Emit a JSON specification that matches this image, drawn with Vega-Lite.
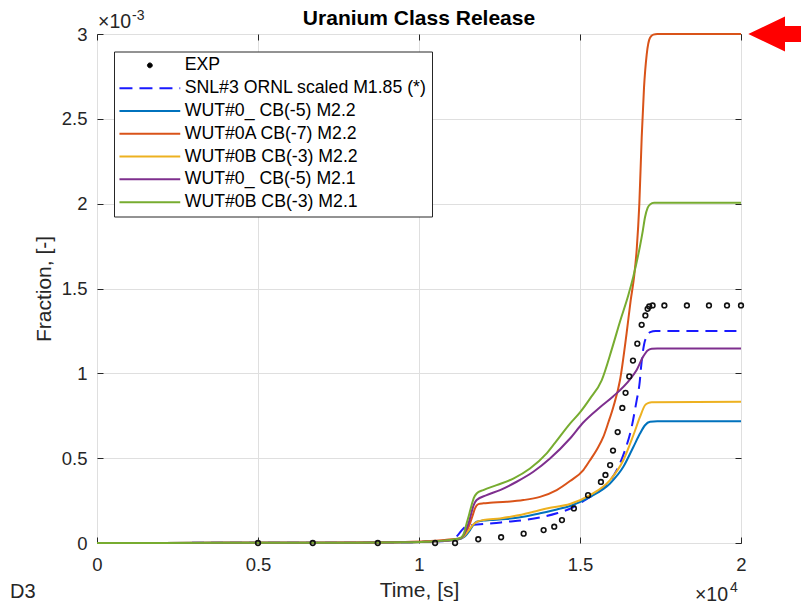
{
  "$schema": "https://vega.github.io/schema/vega-lite/v6.json",
  "width": 644,
  "height": 509,
  "autosize": {"type": "none"},
  "padding": {"left": 97, "top": 34, "right": 60, "bottom": 61},
  "background": "#ffffff",
  "config": {
    "font": "Liberation Sans",
    "view": {"stroke": "#262626", "strokeWidth": 1}
  },
  "title": {
    "text": "Uranium Class Release",
    "font": "Liberation Sans",
    "fontSize": 21,
    "fontWeight": "bold",
    "color": "#000000",
    "anchor": "middle",
    "baseline": "alphabetic",
    "offset": 9,
    "dy": 46
  },
  "datasets": {
    "exp": [
      {"s": "EXP", "t": 5000, "f": 0}, {"s": "EXP", "t": 6700, "f": 0}, {"s": "EXP", "t": 8720, "f": 0},
      {"s": "EXP", "t": 10500, "f": 0}, {"s": "EXP", "t": 11120, "f": 0}, {"s": "EXP", "t": 11840, "f": 0.022},
      {"s": "EXP", "t": 12550, "f": 0.034}, {"s": "EXP", "t": 13250, "f": 0.055}, {"s": "EXP", "t": 13870, "f": 0.076},
      {"s": "EXP", "t": 14200, "f": 0.096}, {"s": "EXP", "t": 14440, "f": 0.135}, {"s": "EXP", "t": 14810, "f": 0.204},
      {"s": "EXP", "t": 15250, "f": 0.282}, {"s": "EXP", "t": 15650, "f": 0.36}, {"s": "EXP", "t": 15790, "f": 0.401},
      {"s": "EXP", "t": 15935, "f": 0.459}, {"s": "EXP", "t": 16025, "f": 0.545}, {"s": "EXP", "t": 16170, "f": 0.654},
      {"s": "EXP", "t": 16315, "f": 0.796}, {"s": "EXP", "t": 16415, "f": 0.885}, {"s": "EXP", "t": 16530, "f": 0.982},
      {"s": "EXP", "t": 16645, "f": 1.075}, {"s": "EXP", "t": 16780, "f": 1.175}, {"s": "EXP", "t": 16915, "f": 1.286},
      {"s": "EXP", "t": 17030, "f": 1.341}, {"s": "EXP", "t": 17100, "f": 1.38}, {"s": "EXP", "t": 17150, "f": 1.394},
      {"s": "EXP", "t": 17255, "f": 1.4}, {"s": "EXP", "t": 17620, "f": 1.4}, {"s": "EXP", "t": 18320, "f": 1.4},
      {"s": "EXP", "t": 19005, "f": 1.4}, {"s": "EXP", "t": 19565, "f": 1.4}, {"s": "EXP", "t": 20000, "f": 1.4}
    ],
    "snl": [
      {"s": "SNL#3 ORNL scaled M1.85 (*)", "t": 0, "f": 0}, {"s": "SNL#3 ORNL scaled M1.85 (*)", "t": 4000, "f": 0.001},
      {"s": "SNL#3 ORNL scaled M1.85 (*)", "t": 8000, "f": 0.002}, {"s": "SNL#3 ORNL scaled M1.85 (*)", "t": 9500, "f": 0.004},
      {"s": "SNL#3 ORNL scaled M1.85 (*)", "t": 10200, "f": 0.007}, {"s": "SNL#3 ORNL scaled M1.85 (*)", "t": 10800, "f": 0.012},
      {"s": "SNL#3 ORNL scaled M1.85 (*)", "t": 11050, "f": 0.02}, {"s": "SNL#3 ORNL scaled M1.85 (*)", "t": 11200, "f": 0.045},
      {"s": "SNL#3 ORNL scaled M1.85 (*)", "t": 11380, "f": 0.086}, {"s": "SNL#3 ORNL scaled M1.85 (*)", "t": 11580, "f": 0.104},
      {"s": "SNL#3 ORNL scaled M1.85 (*)", "t": 11900, "f": 0.11}, {"s": "SNL#3 ORNL scaled M1.85 (*)", "t": 12300, "f": 0.116},
      {"s": "SNL#3 ORNL scaled M1.85 (*)", "t": 12720, "f": 0.125}, {"s": "SNL#3 ORNL scaled M1.85 (*)", "t": 13240, "f": 0.135},
      {"s": "SNL#3 ORNL scaled M1.85 (*)", "t": 13760, "f": 0.151}, {"s": "SNL#3 ORNL scaled M1.85 (*)", "t": 14280, "f": 0.175},
      {"s": "SNL#3 ORNL scaled M1.85 (*)", "t": 14800, "f": 0.212}, {"s": "SNL#3 ORNL scaled M1.85 (*)", "t": 15250, "f": 0.265},
      {"s": "SNL#3 ORNL scaled M1.85 (*)", "t": 15724, "f": 0.325}, {"s": "SNL#3 ORNL scaled M1.85 (*)", "t": 16139, "f": 0.429},
      {"s": "SNL#3 ORNL scaled M1.85 (*)", "t": 16398, "f": 0.547}, {"s": "SNL#3 ORNL scaled M1.85 (*)", "t": 16605, "f": 0.684},
      {"s": "SNL#3 ORNL scaled M1.85 (*)", "t": 16760, "f": 0.841}, {"s": "SNL#3 ORNL scaled M1.85 (*)", "t": 16843, "f": 0.93},
      {"s": "SNL#3 ORNL scaled M1.85 (*)", "t": 16920, "f": 1.08}, {"s": "SNL#3 ORNL scaled M1.85 (*)", "t": 16990, "f": 1.17},
      {"s": "SNL#3 ORNL scaled M1.85 (*)", "t": 17080, "f": 1.22}, {"s": "SNL#3 ORNL scaled M1.85 (*)", "t": 17180, "f": 1.243},
      {"s": "SNL#3 ORNL scaled M1.85 (*)", "t": 17350, "f": 1.25}, {"s": "SNL#3 ORNL scaled M1.85 (*)", "t": 20000, "f": 1.25}
    ],
    "wut": [
      {"s": "WUT#0_ CB(-5) M2.2", "t": 0, "f": 0}, {"s": "WUT#0_ CB(-5) M2.2", "t": 4000, "f": 0.001},
      {"s": "WUT#0_ CB(-5) M2.2", "t": 8000, "f": 0.002}, {"s": "WUT#0_ CB(-5) M2.2", "t": 9500, "f": 0.004},
      {"s": "WUT#0_ CB(-5) M2.2", "t": 10200, "f": 0.007}, {"s": "WUT#0_ CB(-5) M2.2", "t": 10800, "f": 0.013},
      {"s": "WUT#0_ CB(-5) M2.2", "t": 11200, "f": 0.02}, {"s": "WUT#0_ CB(-5) M2.2", "t": 11400, "f": 0.035},
      {"s": "WUT#0_ CB(-5) M2.2", "t": 11584, "f": 0.076}, {"s": "WUT#0_ CB(-5) M2.2", "t": 11700, "f": 0.11},
      {"s": "WUT#0_ CB(-5) M2.2", "t": 11790, "f": 0.125}, {"s": "WUT#0_ CB(-5) M2.2", "t": 12000, "f": 0.132},
      {"s": "WUT#0_ CB(-5) M2.2", "t": 12205, "f": 0.135}, {"s": "WUT#0_ CB(-5) M2.2", "t": 12700, "f": 0.141},
      {"s": "WUT#0_ CB(-5) M2.2", "t": 13240, "f": 0.155}, {"s": "WUT#0_ CB(-5) M2.2", "t": 13760, "f": 0.175},
      {"s": "WUT#0_ CB(-5) M2.2", "t": 14280, "f": 0.198}, {"s": "WUT#0_ CB(-5) M2.2", "t": 14690, "f": 0.218},
      {"s": "WUT#0_ CB(-5) M2.2", "t": 15311, "f": 0.272}, {"s": "WUT#0_ CB(-5) M2.2", "t": 15932, "f": 0.351},
      {"s": "WUT#0_ CB(-5) M2.2", "t": 16346, "f": 0.449}, {"s": "WUT#0_ CB(-5) M2.2", "t": 16657, "f": 0.566},
      {"s": "WUT#0_ CB(-5) M2.2", "t": 16863, "f": 0.645}, {"s": "WUT#0_ CB(-5) M2.2", "t": 17019, "f": 0.694},
      {"s": "WUT#0_ CB(-5) M2.2", "t": 17174, "f": 0.714}, {"s": "WUT#0_ CB(-5) M2.2", "t": 17400, "f": 0.717},
      {"s": "WUT#0_ CB(-5) M2.2", "t": 20000, "f": 0.717},

      {"s": "WUT#0A CB(-7) M2.2", "t": 0, "f": 0}, {"s": "WUT#0A CB(-7) M2.2", "t": 4000, "f": 0.001},
      {"s": "WUT#0A CB(-7) M2.2", "t": 8000, "f": 0.003}, {"s": "WUT#0A CB(-7) M2.2", "t": 9500, "f": 0.006},
      {"s": "WUT#0A CB(-7) M2.2", "t": 10200, "f": 0.01}, {"s": "WUT#0A CB(-7) M2.2", "t": 10800, "f": 0.018},
      {"s": "WUT#0A CB(-7) M2.2", "t": 11273, "f": 0.028}, {"s": "WUT#0A CB(-7) M2.2", "t": 11450, "f": 0.06},
      {"s": "WUT#0A CB(-7) M2.2", "t": 11584, "f": 0.116}, {"s": "WUT#0A CB(-7) M2.2", "t": 11680, "f": 0.17},
      {"s": "WUT#0A CB(-7) M2.2", "t": 11739, "f": 0.204}, {"s": "WUT#0A CB(-7) M2.2", "t": 11842, "f": 0.229},
      {"s": "WUT#0A CB(-7) M2.2", "t": 12000, "f": 0.234}, {"s": "WUT#0A CB(-7) M2.2", "t": 12205, "f": 0.237},
      {"s": "WUT#0A CB(-7) M2.2", "t": 12723, "f": 0.243}, {"s": "WUT#0A CB(-7) M2.2", "t": 13240, "f": 0.253},
      {"s": "WUT#0A CB(-7) M2.2", "t": 13758, "f": 0.272}, {"s": "WUT#0A CB(-7) M2.2", "t": 14276, "f": 0.312},
      {"s": "WUT#0A CB(-7) M2.2", "t": 14690, "f": 0.365}, {"s": "WUT#0A CB(-7) M2.2", "t": 15104, "f": 0.43},
      {"s": "WUT#0A CB(-7) M2.2", "t": 15311, "f": 0.488}, {"s": "WUT#0A CB(-7) M2.2", "t": 15520, "f": 0.55},
      {"s": "WUT#0A CB(-7) M2.2", "t": 15724, "f": 0.625}, {"s": "WUT#0A CB(-7) M2.2", "t": 15880, "f": 0.71},
      {"s": "WUT#0A CB(-7) M2.2", "t": 16035, "f": 0.802}, {"s": "WUT#0A CB(-7) M2.2", "t": 16242, "f": 0.959},
      {"s": "WUT#0A CB(-7) M2.2", "t": 16446, "f": 1.234}, {"s": "WUT#0A CB(-7) M2.2", "t": 16574, "f": 1.43},
      {"s": "WUT#0A CB(-7) M2.2", "t": 16680, "f": 1.57}, {"s": "WUT#0A CB(-7) M2.2", "t": 16761, "f": 1.73},
      {"s": "WUT#0A CB(-7) M2.2", "t": 16843, "f": 2.0}, {"s": "WUT#0A CB(-7) M2.2", "t": 16916, "f": 2.39},
      {"s": "WUT#0A CB(-7) M2.2", "t": 16988, "f": 2.684}, {"s": "WUT#0A CB(-7) M2.2", "t": 17072, "f": 2.88},
      {"s": "WUT#0A CB(-7) M2.2", "t": 17174, "f": 2.978}, {"s": "WUT#0A CB(-7) M2.2", "t": 17277, "f": 2.996},
      {"s": "WUT#0A CB(-7) M2.2", "t": 17400, "f": 3.0}, {"s": "WUT#0A CB(-7) M2.2", "t": 20000, "f": 3.0},

      {"s": "WUT#0B CB(-3) M2.2", "t": 0, "f": 0}, {"s": "WUT#0B CB(-3) M2.2", "t": 4000, "f": 0.001},
      {"s": "WUT#0B CB(-3) M2.2", "t": 8000, "f": 0.002}, {"s": "WUT#0B CB(-3) M2.2", "t": 9500, "f": 0.004},
      {"s": "WUT#0B CB(-3) M2.2", "t": 10200, "f": 0.007}, {"s": "WUT#0B CB(-3) M2.2", "t": 10800, "f": 0.013},
      {"s": "WUT#0B CB(-3) M2.2", "t": 11200, "f": 0.02}, {"s": "WUT#0B CB(-3) M2.2", "t": 11400, "f": 0.04},
      {"s": "WUT#0B CB(-3) M2.2", "t": 11584, "f": 0.085}, {"s": "WUT#0B CB(-3) M2.2", "t": 11700, "f": 0.112},
      {"s": "WUT#0B CB(-3) M2.2", "t": 11800, "f": 0.125}, {"s": "WUT#0B CB(-3) M2.2", "t": 12000, "f": 0.135},
      {"s": "WUT#0B CB(-3) M2.2", "t": 12516, "f": 0.145}, {"s": "WUT#0B CB(-3) M2.2", "t": 13000, "f": 0.16},
      {"s": "WUT#0B CB(-3) M2.2", "t": 13551, "f": 0.184}, {"s": "WUT#0B CB(-3) M2.2", "t": 14000, "f": 0.205},
      {"s": "WUT#0B CB(-3) M2.2", "t": 14690, "f": 0.23}, {"s": "WUT#0B CB(-3) M2.2", "t": 15311, "f": 0.282},
      {"s": "WUT#0B CB(-3) M2.2", "t": 15932, "f": 0.371}, {"s": "WUT#0B CB(-3) M2.2", "t": 16346, "f": 0.488},
      {"s": "WUT#0B CB(-3) M2.2", "t": 16657, "f": 0.635}, {"s": "WUT#0B CB(-3) M2.2", "t": 16863, "f": 0.743},
      {"s": "WUT#0B CB(-3) M2.2", "t": 17019, "f": 0.812}, {"s": "WUT#0B CB(-3) M2.2", "t": 17130, "f": 0.826},
      {"s": "WUT#0B CB(-3) M2.2", "t": 17226, "f": 0.83}, {"s": "WUT#0B CB(-3) M2.2", "t": 20000, "f": 0.832},

      {"s": "WUT#0_ CB(-5) M2.1", "t": 0, "f": 0}, {"s": "WUT#0_ CB(-5) M2.1", "t": 4000, "f": 0.001},
      {"s": "WUT#0_ CB(-5) M2.1", "t": 8000, "f": 0.002}, {"s": "WUT#0_ CB(-5) M2.1", "t": 9500, "f": 0.004},
      {"s": "WUT#0_ CB(-5) M2.1", "t": 10200, "f": 0.007}, {"s": "WUT#0_ CB(-5) M2.1", "t": 10800, "f": 0.013},
      {"s": "WUT#0_ CB(-5) M2.1", "t": 11273, "f": 0.025}, {"s": "WUT#0_ CB(-5) M2.1", "t": 11400, "f": 0.05},
      {"s": "WUT#0_ CB(-5) M2.1", "t": 11480, "f": 0.086}, {"s": "WUT#0_ CB(-5) M2.1", "t": 11560, "f": 0.13},
      {"s": "WUT#0_ CB(-5) M2.1", "t": 11635, "f": 0.184}, {"s": "WUT#0_ CB(-5) M2.1", "t": 11700, "f": 0.225},
      {"s": "WUT#0_ CB(-5) M2.1", "t": 11790, "f": 0.253}, {"s": "WUT#0_ CB(-5) M2.1", "t": 12100, "f": 0.282},
      {"s": "WUT#0_ CB(-5) M2.1", "t": 12516, "f": 0.312}, {"s": "WUT#0_ CB(-5) M2.1", "t": 13033, "f": 0.361},
      {"s": "WUT#0_ CB(-5) M2.1", "t": 13551, "f": 0.42}, {"s": "WUT#0_ CB(-5) M2.1", "t": 14068, "f": 0.498},
      {"s": "WUT#0_ CB(-5) M2.1", "t": 14690, "f": 0.616}, {"s": "WUT#0_ CB(-5) M2.1", "t": 15100, "f": 0.71},
      {"s": "WUT#0_ CB(-5) M2.1", "t": 15621, "f": 0.8}, {"s": "WUT#0_ CB(-5) M2.1", "t": 16035, "f": 0.865},
      {"s": "WUT#0_ CB(-5) M2.1", "t": 16553, "f": 0.965}, {"s": "WUT#0_ CB(-5) M2.1", "t": 16760, "f": 1.02},
      {"s": "WUT#0_ CB(-5) M2.1", "t": 16966, "f": 1.1}, {"s": "WUT#0_ CB(-5) M2.1", "t": 17100, "f": 1.135},
      {"s": "WUT#0_ CB(-5) M2.1", "t": 17226, "f": 1.145}, {"s": "WUT#0_ CB(-5) M2.1", "t": 17400, "f": 1.147},
      {"s": "WUT#0_ CB(-5) M2.1", "t": 20000, "f": 1.147},

      {"s": "WUT#0B CB(-3) M2.1", "t": 0, "f": 0}, {"s": "WUT#0B CB(-3) M2.1", "t": 4000, "f": 0.001},
      {"s": "WUT#0B CB(-3) M2.1", "t": 8000, "f": 0.002}, {"s": "WUT#0B CB(-3) M2.1", "t": 9500, "f": 0.004},
      {"s": "WUT#0B CB(-3) M2.1", "t": 10200, "f": 0.007}, {"s": "WUT#0B CB(-3) M2.1", "t": 10800, "f": 0.014},
      {"s": "WUT#0B CB(-3) M2.1", "t": 11273, "f": 0.028}, {"s": "WUT#0B CB(-3) M2.1", "t": 11400, "f": 0.06},
      {"s": "WUT#0B CB(-3) M2.1", "t": 11480, "f": 0.116}, {"s": "WUT#0B CB(-3) M2.1", "t": 11560, "f": 0.17},
      {"s": "WUT#0B CB(-3) M2.1", "t": 11635, "f": 0.224}, {"s": "WUT#0B CB(-3) M2.1", "t": 11700, "f": 0.265},
      {"s": "WUT#0B CB(-3) M2.1", "t": 11790, "f": 0.292}, {"s": "WUT#0B CB(-3) M2.1", "t": 11997, "f": 0.312},
      {"s": "WUT#0B CB(-3) M2.1", "t": 12411, "f": 0.341}, {"s": "WUT#0B CB(-3) M2.1", "t": 12929, "f": 0.38},
      {"s": "WUT#0B CB(-3) M2.1", "t": 13447, "f": 0.439}, {"s": "WUT#0B CB(-3) M2.1", "t": 13965, "f": 0.528},
      {"s": "WUT#0B CB(-3) M2.1", "t": 14224, "f": 0.59}, {"s": "WUT#0B CB(-3) M2.1", "t": 14690, "f": 0.704},
      {"s": "WUT#0B CB(-3) M2.1", "t": 15000, "f": 0.77}, {"s": "WUT#0B CB(-3) M2.1", "t": 15311, "f": 0.851},
      {"s": "WUT#0B CB(-3) M2.1", "t": 15673, "f": 0.959}, {"s": "WUT#0B CB(-3) M2.1", "t": 16000, "f": 1.15},
      {"s": "WUT#0B CB(-3) M2.1", "t": 16250, "f": 1.31}, {"s": "WUT#0B CB(-3) M2.1", "t": 16500, "f": 1.46},
      {"s": "WUT#0B CB(-3) M2.1", "t": 16655, "f": 1.57}, {"s": "WUT#0B CB(-3) M2.1", "t": 16863, "f": 1.75},
      {"s": "WUT#0B CB(-3) M2.1", "t": 16950, "f": 1.84}, {"s": "WUT#0B CB(-3) M2.1", "t": 17019, "f": 1.92},
      {"s": "WUT#0B CB(-3) M2.1", "t": 17100, "f": 1.975}, {"s": "WUT#0B CB(-3) M2.1", "t": 17174, "f": 1.995},
      {"s": "WUT#0B CB(-3) M2.1", "t": 17300, "f": 2.005}, {"s": "WUT#0B CB(-3) M2.1", "t": 20000, "f": 2.005}
    ],
    "notes": [
      {"t": 0, "f": 3, "label": "×10", "role": "yexp"},
      {"t": 0, "f": 3, "label": "-3", "role": "yexpsup"},
      {"t": 20000, "f": 0, "label": "×10", "role": "xexp"},
      {"t": 20000, "f": 0, "label": "4", "role": "xexpsup"},
      {"t": 0, "f": 0, "label": "D3", "role": "tag"}
    ],
    "marker": [
      {"t": 20000, "f": 3}
    ]
  },
  "resolve": {"axis": {"x": "independent", "y": "independent"}},
  "layer": [
    {
      "layer": [
        {
          "data": {"name": "snl"},
          "mark": {"type": "line", "strokeWidth": 2, "strokeDash": [12, 7], "interpolate": "monotone"},
          "encoding": {
            "x": {
              "field": "t", "type": "quantitative",
              "scale": {"domain": [0, 20000], "nice": false, "zero": false},
              "axis": {
                "values": [0, 5000, 10000, 15000, 20000],
                "labelExpr": "format(datum.value / 10000, '~g')",
                "title": "Time, [s]",
                "grid": true, "gridColor": "#dfdfdf", "gridWidth": 1,
                "domain": false,
                "ticks": true, "tickSize": -6, "tickColor": "#262626", "tickWidth": 1,
                "labelFont": "Liberation Sans", "labelFontSize": 18.5, "labelColor": "#262626",
                "labelPadding": 18, "labelFlush": false, "labelOverlap": false,
                "titleFont": "Liberation Sans", "titleFontSize": 21, "titleFontWeight": "normal",
                "titleColor": "#262626", "titlePadding": 6
              }
            },
            "y": {
              "field": "f", "type": "quantitative",
              "scale": {"domain": [0, 3], "nice": false, "zero": false},
              "axis": {
                "values": [0, 0.5, 1, 1.5, 2, 2.5, 3],
                "labelExpr": "format(datum.value, '~g')",
                "title": "Fraction, [-]",
                "grid": true, "gridColor": "#dfdfdf", "gridWidth": 1,
                "domain": false,
                "ticks": true, "tickSize": -6, "tickColor": "#262626", "tickWidth": 1,
                "labelFont": "Liberation Sans", "labelFontSize": 18.5, "labelColor": "#262626",
                "labelPadding": 16, "labelFlush": false, "labelOverlap": false,
                "titleFont": "Liberation Sans", "titleFontSize": 21, "titleFontWeight": "normal",
                "titleColor": "#262626", "titlePadding": 7
              }
            },
            "color": {
              "field": "s", "type": "nominal",
              "scale": {
                "domain": ["EXP", "SNL#3 ORNL scaled M1.85 (*)", "WUT#0_ CB(-5) M2.2", "WUT#0A CB(-7) M2.2", "WUT#0B CB(-3) M2.2", "WUT#0_ CB(-5) M2.1", "WUT#0B CB(-3) M2.1"],
                "range": ["#000000", "#1a1aff", "#0072bd", "#d95319", "#edb120", "#7e2f8e", "#77ac30"]
              },
              "legend": {
                "orient": "none", "legendX": 17, "legendY": 17.5,
                "title": null,
                "padding": 5,
                "strokeColor": "#262626", "fillColor": "#ffffff",
                "labelFont": "Liberation Sans", "labelFontSize": 17.7, "labelColor": "#000000",
                "labelLimit": 400, "labelBaseline": "middle",
                "rowPadding": 3.8,
                "symbolType": "M-7.6,0H7.6",
                "symbolSize": 64, "symbolStrokeWidth": 2,
                "symbolOffset": 22, "labelOffset": 26,
                "encode": {
                  "symbols": {
                    "update": {
                      "shape": {"signal": "datum.value === 'EXP' ? 'M0.6,0A0.6,0.6 0 1 1 -0.6,0A0.6,0.6 0 1 1 0.6,0Z' : 'M-7.6,0H7.6'"},
                      "strokeDash": {"signal": "datum.value === 'SNL#3 ORNL scaled M1.85 (*)' ? [13, 7] : [1, 0]"},
                      "fill": {"signal": "datum.value === 'EXP' ? '#000000' : 'transparent'"},
                      "strokeWidth": {"signal": "datum.value === 'EXP' ? 1 : 2"}
                    }
                  }
                }
              }
            }
          }
        },
        {
          "data": {"name": "wut"},
          "mark": {"type": "line", "strokeWidth": 2, "interpolate": "monotone"},
          "encoding": {
            "x": {"field": "t", "type": "quantitative"},
            "y": {"field": "f", "type": "quantitative"},
            "color": {"field": "s", "type": "nominal"}
          }
        },
        {
          "data": {"name": "exp"},
          "mark": {"type": "point", "shape": "circle", "size": 22, "filled": false, "strokeWidth": 1.6, "color": "#111111", "opacity": 1},
          "encoding": {
            "x": {"field": "t", "type": "quantitative"},
            "y": {"field": "f", "type": "quantitative"}
          }
        }
      ]
    },
    {
      "data": {"name": "marker"},
      "mark": {
        "type": "point",
        "shape": "M0.73,0L4.4,-1.75L4.4,-0.8L6.5,-0.8L6.5,0.8L4.4,0.8L4.4,1.75Z",
        "size": 400, "filled": true, "color": "#ff0000", "strokeWidth": 0, "opacity": 1
      },
      "encoding": {
        "x": {
          "field": "t", "type": "quantitative",
          "scale": {"domain": [0, 20000], "nice": false, "zero": false},
          "axis": {"orient": "top", "values": [0, 5000, 10000, 15000, 20000], "labels": false, "title": null, "grid": false, "domain": false, "ticks": true, "tickSize": -6, "tickColor": "#262626"}
        },
        "y": {
          "field": "f", "type": "quantitative",
          "scale": {"domain": [0, 3], "nice": false, "zero": false},
          "axis": {"orient": "right", "values": [0, 0.5, 1, 1.5, 2, 2.5, 3], "labels": false, "title": null, "grid": false, "domain": false, "ticks": true, "tickSize": -6, "tickColor": "#262626"}
        }
      }
    },
    {
      "data": {"name": "notes"},
      "layer": [
        {
          "transform": [{"filter": "datum.role === 'yexp'"}],
          "mark": {"type": "text", "font": "Liberation Sans", "fontSize": 19.5, "color": "#262626", "align": "left", "baseline": "alphabetic", "dx": 1, "dy": -6},
          "encoding": {
            "x": {"field": "t", "type": "quantitative", "axis": null},
            "y": {"field": "f", "type": "quantitative", "axis": null},
            "text": {"field": "label"}
          }
        },
        {
          "transform": [{"filter": "datum.role === 'yexpsup'"}],
          "mark": {"type": "text", "font": "Liberation Sans", "fontSize": 14, "color": "#262626", "align": "left", "baseline": "alphabetic", "dx": 35, "dy": -14.5},
          "encoding": {
            "x": {"field": "t", "type": "quantitative", "axis": null},
            "y": {"field": "f", "type": "quantitative", "axis": null},
            "text": {"field": "label"}
          }
        },
        {
          "transform": [{"filter": "datum.role === 'xexp'"}],
          "mark": {"type": "text", "font": "Liberation Sans", "fontSize": 19.5, "color": "#262626", "align": "right", "baseline": "alphabetic", "dx": -13, "dy": 58},
          "encoding": {
            "x": {"field": "t", "type": "quantitative", "axis": null},
            "y": {"field": "f", "type": "quantitative", "axis": null},
            "text": {"field": "label"}
          }
        },
        {
          "transform": [{"filter": "datum.role === 'xexpsup'"}],
          "mark": {"type": "text", "font": "Liberation Sans", "fontSize": 14, "color": "#262626", "align": "left", "baseline": "alphabetic", "dx": -11, "dy": 49},
          "encoding": {
            "x": {"field": "t", "type": "quantitative", "axis": null},
            "y": {"field": "f", "type": "quantitative", "axis": null},
            "text": {"field": "label"}
          }
        },
        {
          "transform": [{"filter": "datum.role === 'tag'"}],
          "mark": {"type": "text", "font": "Liberation Sans", "fontSize": 20, "color": "#262626", "align": "left", "baseline": "alphabetic", "dx": -87, "dy": 55},
          "encoding": {
            "x": {"field": "t", "type": "quantitative", "axis": null},
            "y": {"field": "f", "type": "quantitative", "axis": null},
            "text": {"field": "label"}
          }
        }
      ]
    }
  ]
}
